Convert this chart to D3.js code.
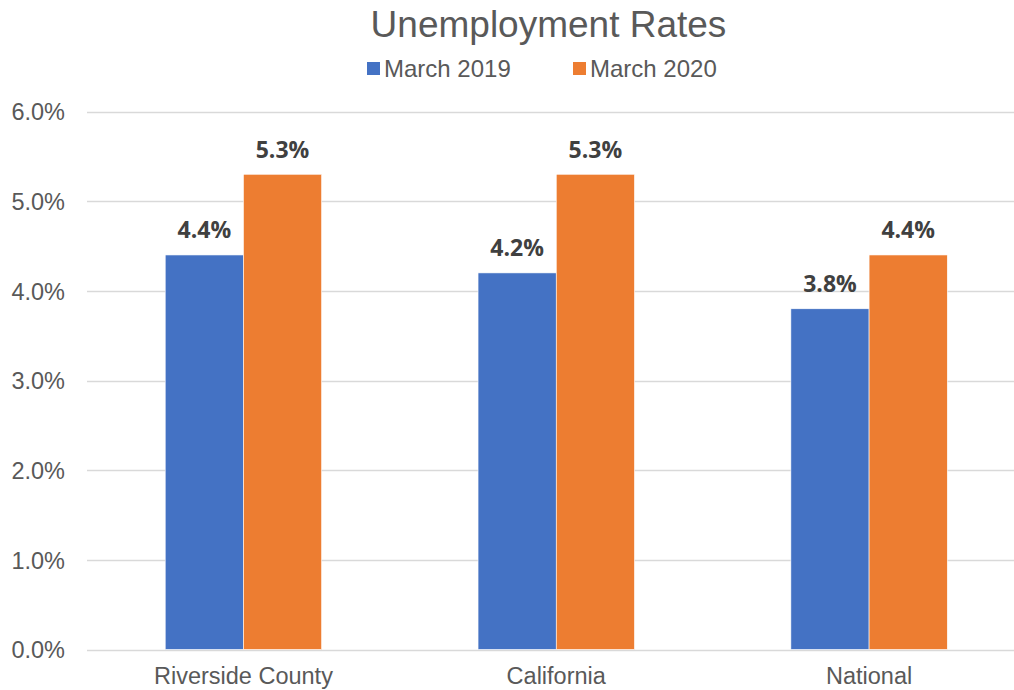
<!DOCTYPE html>
<html>
<head>
<meta charset="utf-8">
<script src="https://cdn.jsdelivr.net/npm/d3@7"></script>
<style>
  html, body { margin: 0; padding: 0; background: #fff; }
  svg { display: block; }
</style>
</head>
<body>
<svg id="chart" width="1014" height="690"></svg>
<script>
// Unemployment rates (percent)
const categories = ["Riverside County", "California", "National"];
const seriesNames = ["March 2019", "March 2020"];
const march2019 = [4.4, 4.2, 3.8];
const march2020 = [5.3, 5.3, 4.4];
const yTicks = [0, 1, 2, 3, 4, 5, 6];
const colors = ["#4472C4", "#ED7D31"];

const rows = categories.map((c, i) => ({ category: c, values: [march2019[i], march2020[i]] }));

const svg = d3.select("#chart");
const W = 1014, H = 690;
const plotLeft = 87, plotRight = 1025.5, plotTop = 111.5, plotBottom = 649.5;

const x = d3.scaleBand().domain(categories).range([plotLeft, plotRight]).paddingInner(0).paddingOuter(0);
const groupWidth = x.bandwidth() * 0.5;
const xs = d3.scaleBand().domain(d3.range(seriesNames.length))
  .range([-groupWidth / 2, groupWidth / 2]).padding(0);
const y = d3.scaleLinear().domain([0, 6]).range([plotBottom, plotTop]);

// Gridlines
svg.append("g")
  .selectAll("line")
  .data(yTicks)
  .join("line")
  .attr("x1", plotLeft).attr("x2", W)
  .attr("y1", d => Math.round(y(d)) + 0.5).attr("y2", d => Math.round(y(d)) + 0.5)
  .attr("stroke", "#D9D9D9").attr("stroke-width", 1.3);

// Y axis labels
const yAxis = d3.axisLeft(y).tickValues(yTicks).tickFormat(d => d3.format(".1f")(d) + "%").tickSize(0).tickPadding(0);
const yg = svg.append("g").attr("transform", `translate(65,0)`).call(yAxis);
yg.select(".domain").remove();
yg.selectAll("text")
  .attr("font-family", "Liberation Sans, Arial, sans-serif")
  .attr("font-size", 23.5)
  .attr("fill", "#595959")
  .attr("dy", "0.36em");

// Bars
const groups = svg.append("g").selectAll("g")
  .data(rows)
  .join("g")
  .attr("transform", d => `translate(${x(d.category) + x.bandwidth() / 2},0)`);

groups.selectAll("rect")
  .data(d => d.values.map((v, i) => ({ v, i })))
  .join("rect")
  .attr("x", d => xs(d.i))
  .attr("width", xs.bandwidth())
  .attr("y", d => y(d.v))
  .attr("height", d => y(0) - y(d.v))
  .attr("fill", d => colors[d.i])
  .attr("stroke", "#fff").attr("stroke-width", 0.6);

// Value labels
groups.selectAll("text")
  .data(d => d.values.map((v, i) => ({ v, i })))
  .join("text")
  .attr("x", d => xs(d.i) + xs.bandwidth() / 2)
  .attr("y", d => y(d.v) - 16.5)
  .attr("text-anchor", "middle")
  .attr("font-family", "Open Sans, sans-serif")
  .attr("font-weight", 700)
  .attr("font-size", 23)
  .attr("fill", "#404040")
  .text(d => d3.format(".1f")(d.v) + "%");

// Category labels
const xAxis = d3.axisBottom(x).tickSize(0).tickPadding(0);
const xg = svg.append("g").attr("transform", `translate(0,${plotBottom})`).call(xAxis);
xg.select(".domain").remove();
xg.selectAll("text")
  .attr("font-family", "Liberation Sans, Arial, sans-serif")
  .attr("font-size", 23.5)
  .attr("fill", "#595959")
  .attr("y", 34.5).attr("dy", 0);

// Title
svg.append("text")
  .attr("x", 548.5).attr("y", 37)
  .attr("text-anchor", "middle")
  .attr("font-family", "Liberation Sans, Arial, sans-serif")
  .attr("font-size", 37)
  .attr("fill", "#595959")
  .text("Unemployment Rates");

// Legend
const legendX = [367, 573];
const legend = svg.append("g").selectAll("g")
  .data(seriesNames)
  .join("g")
  .attr("transform", (d, i) => `translate(${legendX[i]},0)`);
legend.append("rect")
  .attr("x", 0).attr("y", 62).attr("width", 13).attr("height", 13)
  .attr("fill", (d, i) => colors[i]);
legend.append("text")
  .attr("x", 17).attr("y", 76.5)
  .attr("font-family", "Liberation Sans, Arial, sans-serif")
  .attr("font-size", 24)
  .attr("fill", "#595959")
  .text(d => d);
</script>
</body>
</html>
